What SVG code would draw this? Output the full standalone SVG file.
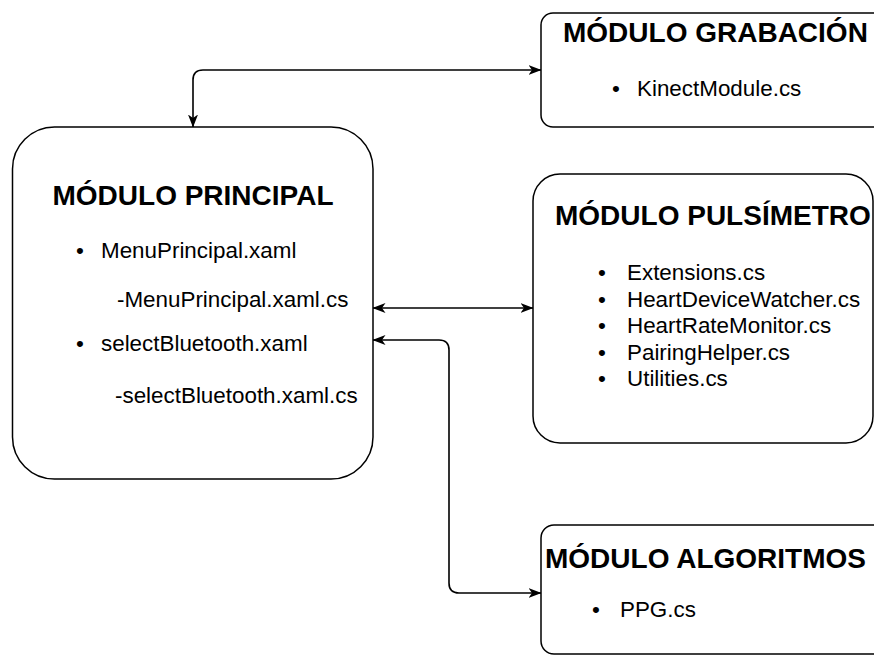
<svg xmlns="http://www.w3.org/2000/svg" width="874" height="655" viewBox="0 0 874 655">
<style>
.box{fill:#fff;stroke:#000;stroke-width:1.5}
.title{font-family:"Liberation Sans",Arial,sans-serif;font-weight:bold;font-size:28px;fill:#000}
.body{font-family:"Liberation Sans",Arial,sans-serif;font-size:22.4px;fill:#000}
.bul{font-family:"Liberation Sans",Arial,sans-serif;font-size:22.4px;fill:#000;text-anchor:middle}
.conn{fill:none;stroke:#000;stroke-width:1.6;marker-start:url(#arr);marker-end:url(#arr)}
</style>
<defs>
<marker id="arr" viewBox="0 0 13 11" refX="12.5" refY="5.5" markerWidth="13" markerHeight="11" markerUnits="userSpaceOnUse" orient="auto-start-reverse">
<path d="M0,0.5 L13,5.5 L0,10.5 L3.5,5.5 Z" fill="#000"/>
</marker>
</defs>
<rect width="874" height="655" fill="#fff"/>

<g id="connectors">
<path class="conn" d="M541,70 L203,70 Q193,70 193,80 L193,127"/>
<path class="conn" d="M373,308 L533,308"/>
<path class="conn" d="M373,340 L439,340 Q449,340 449,350 L449,583 Q449,593 459,593 L541,593"/>
</g>

<g id="principal">
<rect class="box" x="12.5" y="127" width="360.5" height="352" rx="42" ry="42"/>
<text class="title" x="193" y="205" text-anchor="middle">MÓDULO PRINCIPAL</text>
<text class="bul" x="80" y="258">•</text>
<text class="body" x="101" y="258">MenuPrincipal.xaml</text>
<text class="body" x="117" y="307">-MenuPrincipal.xaml.cs</text>
<text class="bul" x="80" y="351">•</text>
<text class="body" x="101" y="351">selectBluetooth.xaml</text>
<text class="body" x="115" y="403">-selectBluetooth.xaml.cs</text>
</g>

<g id="grabacion">
<rect class="box" x="541" y="13" width="345" height="114" rx="12" ry="12"/>
<text class="title" x="563" y="42">MÓDULO GRABACIÓN</text>
<text class="bul" x="616" y="96">•</text>
<text class="body" x="637" y="96">KinectModule.cs</text>
</g>

<g id="pulsimetro">
<rect class="box" x="533" y="174" width="340" height="269" rx="27" ry="27"/>
<text class="title" x="555" y="225">MÓDULO PULSÍMETRO</text>
<text class="bul" x="602" y="280">•</text>
<text class="body" x="627" y="280">Extensions.cs</text>
<text class="bul" x="602" y="307">•</text>
<text class="body" x="627" y="307">HeartDeviceWatcher.cs</text>
<text class="bul" x="602" y="333">•</text>
<text class="body" x="627" y="333">HeartRateMonitor.cs</text>
<text class="bul" x="602" y="360">•</text>
<text class="body" x="627" y="360">PairingHelper.cs</text>
<text class="bul" x="602" y="386">•</text>
<text class="body" x="627" y="386">Utilities.cs</text>
</g>

<g id="algoritmos">
<rect class="box" x="541" y="525" width="345" height="129" rx="13" ry="13"/>
<text class="title" x="545" y="568">MÓDULO ALGORITMOS</text>
<text class="bul" x="596" y="617">•</text>
<text class="body" x="620" y="617">PPG.cs</text>
</g>
</svg>
